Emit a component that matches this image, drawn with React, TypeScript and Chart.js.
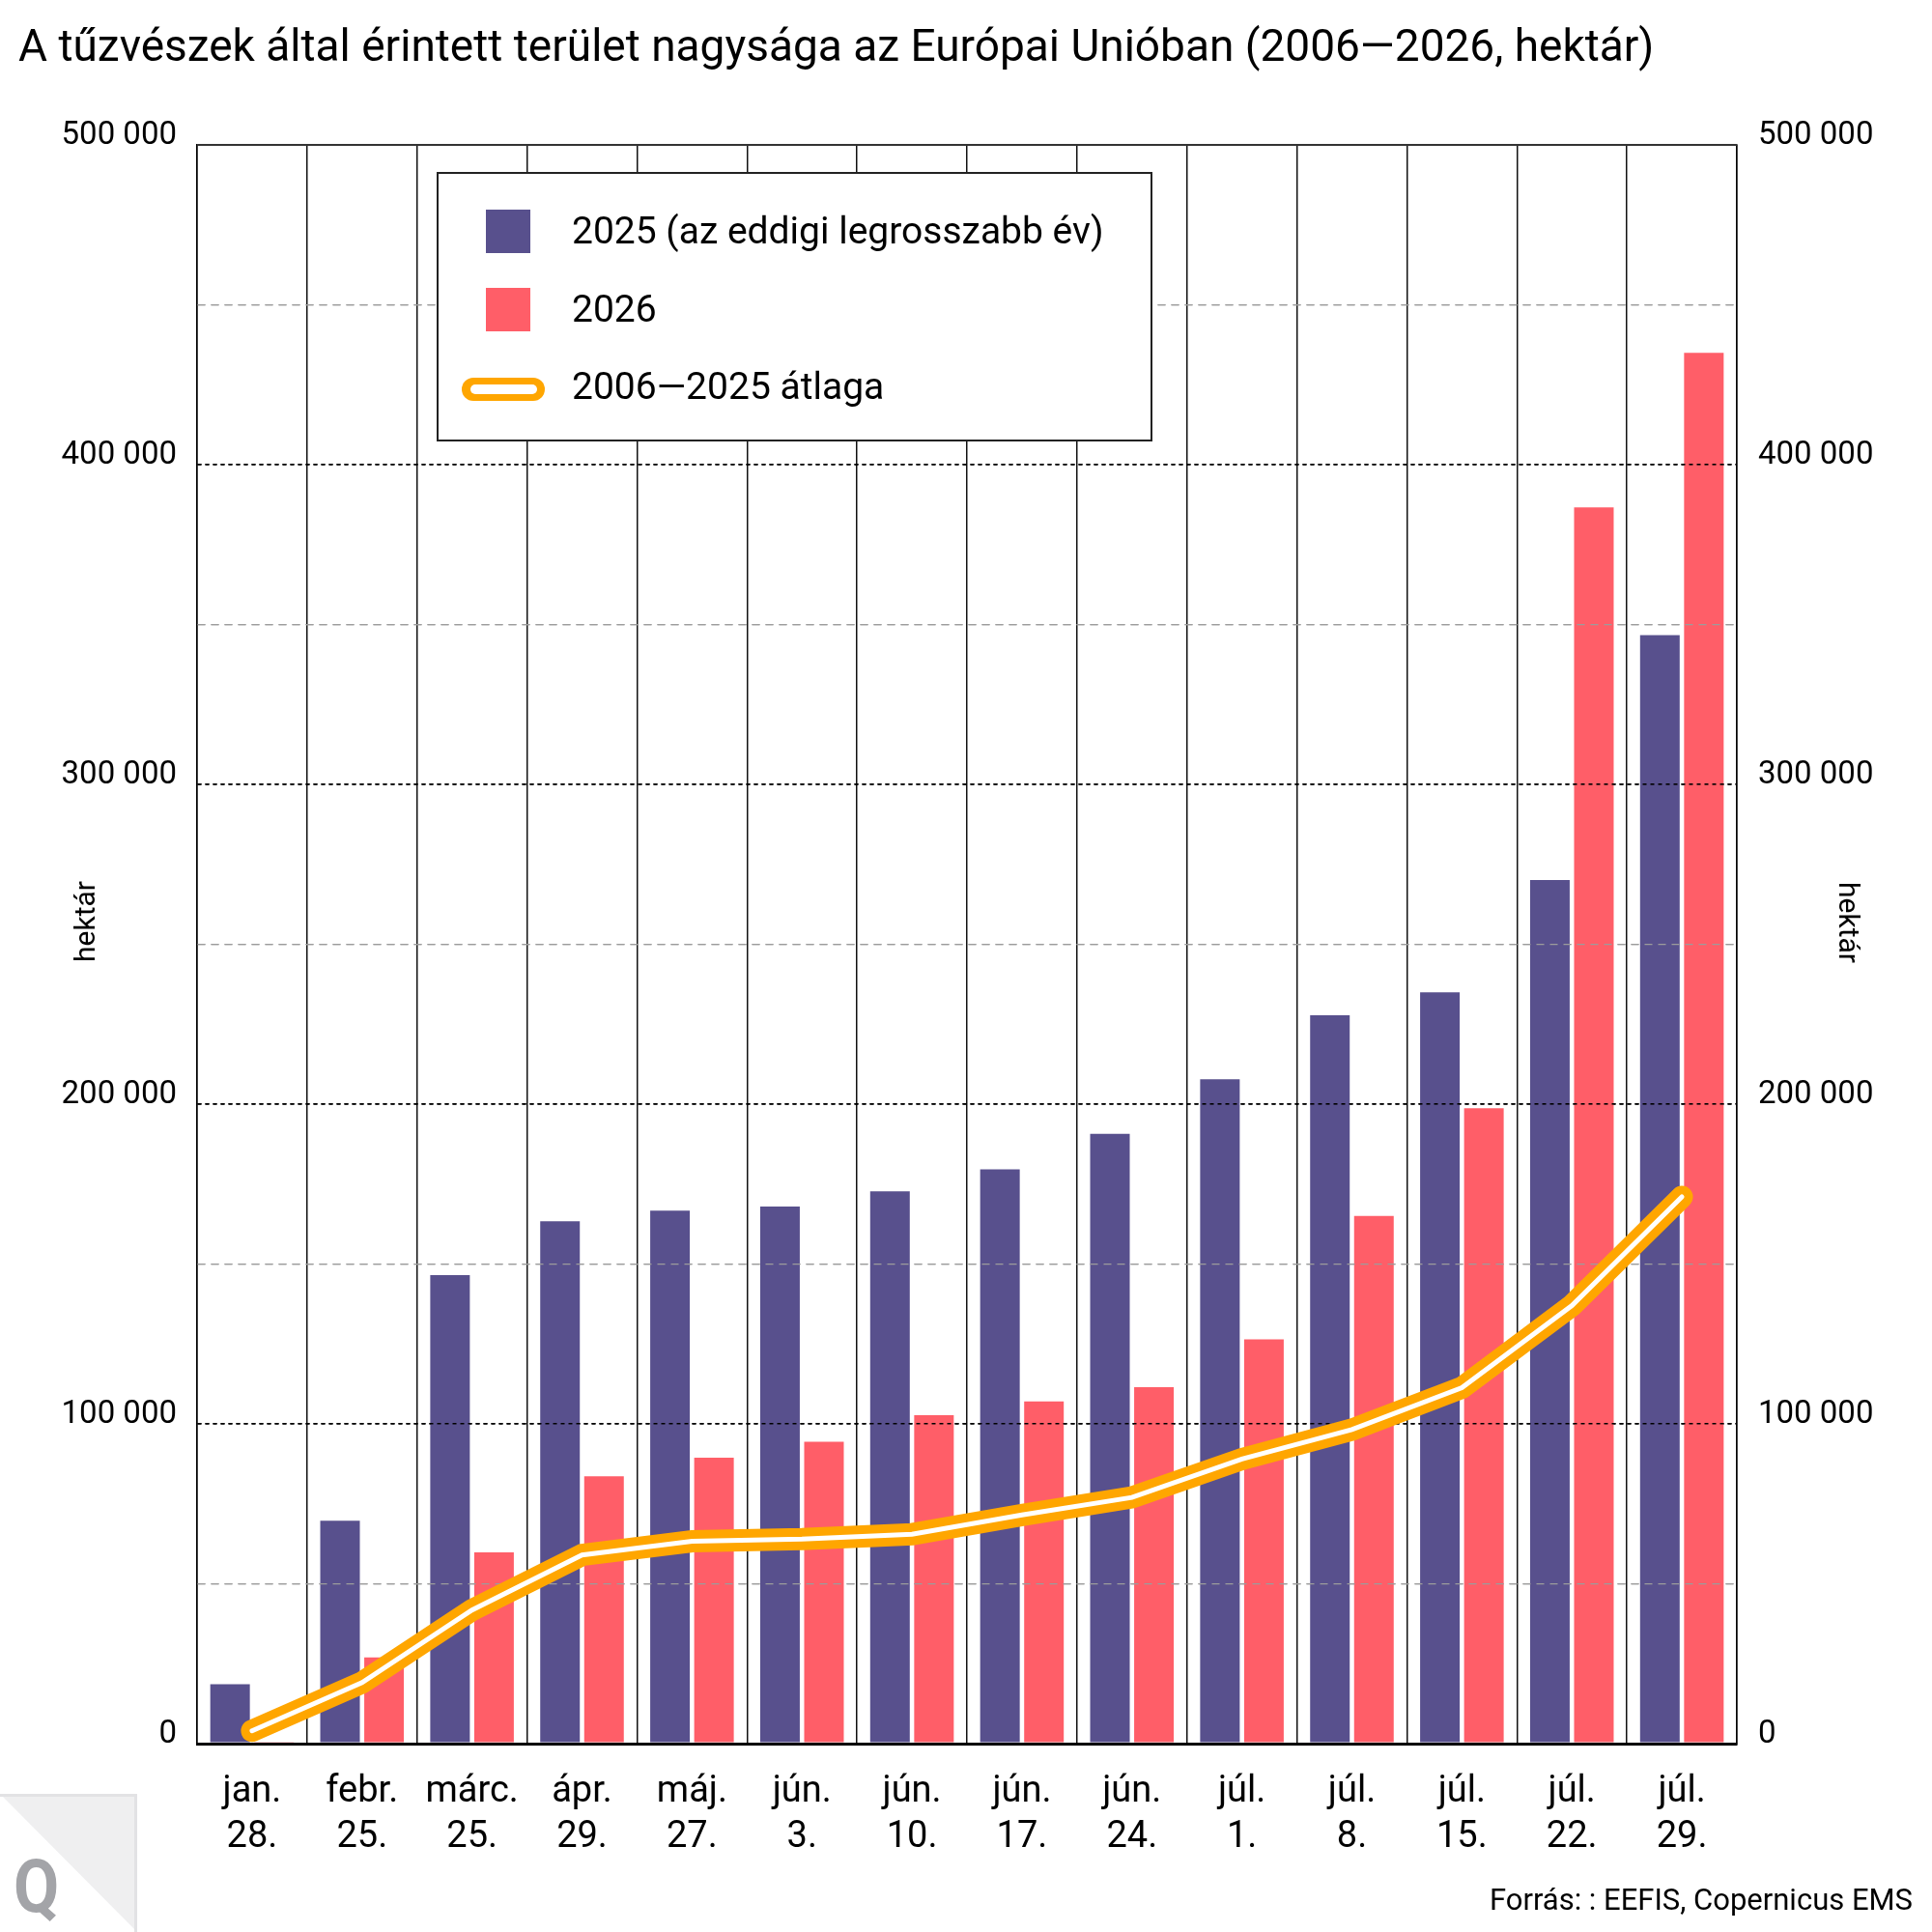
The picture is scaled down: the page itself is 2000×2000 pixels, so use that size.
import React, { useEffect, useRef } from "react";
import { Chart, registerables } from "chart.js";

Chart.register(...registerables);

const TITLE = "A tűzvészek által érintett terület nagysága az Európai Unióban (2006—2026, hektár)";
const SOURCE = "Forrás: : EEFIS, Copernicus EMS";
const AXIS_TITLE = "hektár";
const LOGO_TEXT = "Q";

const CATEGORIES: string[][] = [
  ["jan.", "28."],
  ["febr.", "25."],
  ["márc.", "25."],
  ["ápr.", "29."],
  ["máj.", "27."],
  ["jún.", "3."],
  ["jún.", "10."],
  ["jún.", "17."],
  ["jún.", "24."],
  ["júl.", "1."],
  ["júl.", "8."],
  ["júl.", "15."],
  ["júl.", "22."],
  ["júl.", "29."],
];

const LABEL_2025 = "2025 (az eddigi legrosszabb év)";
const LABEL_2026 = "2026";
const LABEL_AVG = "2006—2025 átlaga";

const SERIES_2025 = [18600, 69700, 146500, 163400, 166700, 168000, 172700, 179600, 190700, 207800, 227800, 235000, 270100, 346700];
const SERIES_2026 = [400, 27000, 59800, 83600, 89400, 94400, 102700, 107000, 111500, 126400, 165000, 198700, 386600, 435000];
const SERIES_AVG = [4000, 19100, 41800, 59000, 63300, 64000, 65500, 71500, 77000, 89000, 98200, 111300, 137000, 171000];

const Y_MIN = 0;
const Y_MAX = 500000;
const Y_STEP = 50000;
const Y_LABEL_STEP = 100000;

const PURPLE = "#58508d";
const RED = "#ff5e68";
const ORANGE = "#ffa600";
const FONT = "Roboto";

const fmt = (v: number) => String(v).replace(/\B(?=(\d{3})+(?!\d))/g, " ");
const tickLabel = (v: any) => (Number(v) % Y_LABEL_STEP === 0 ? fmt(Number(v)) : "");

const decorations = {
  id: "decorations",
  beforeDatasetDraw(chart: any, args: any) {
    // horizontal grid lines run over the bars but under the average line
    if (args.index === 2) {
      const ctx = chart.ctx;
      ctx.save();
      chart.scales.y.drawGrid(chart.chartArea);
      ctx.restore();
    }
  },
  afterDraw(chart: any) {
    const ctx = chart.ctx as CanvasRenderingContext2D;
    ctx.save();
    ctx.fillStyle = "#000";

    // title
    ctx.font = `46px ${FONT}`;
    ctx.textAlign = "left";
    ctx.textBaseline = "alphabetic";
    ctx.fillText(TITLE, 19, 63);

    // axis titles
    ctx.font = `30px ${FONT}`;
    ctx.textAlign = "center";
    ctx.textBaseline = "middle";
    ctx.save();
    ctx.translate(90, 954);
    ctx.rotate(-Math.PI / 2);
    ctx.fillText(AXIS_TITLE, 0, 0);
    ctx.restore();
    ctx.save();
    ctx.translate(1911, 955);
    ctx.rotate(Math.PI / 2);
    ctx.fillText(AXIS_TITLE, 0, 0);
    ctx.restore();

    // legend box
    const bx = 453, by = 179, bw = 739, bh = 277;
    ctx.fillStyle = "#fff";
    ctx.fillRect(bx, by, bw, bh);
    ctx.strokeStyle = "#222";
    ctx.lineWidth = 2;
    ctx.strokeRect(bx, by, bw, bh);

    const ds = chart.data.datasets;
    const rows = [
      { d: ds[0], base: 252 },
      { d: ds[1], base: 333 },
      { d: ds[2], base: 413 },
    ];
    ctx.font = `39px ${FONT}`;
    ctx.textAlign = "left";
    ctx.textBaseline = "alphabetic";
    rows.forEach((r) => {
      if (r.d.type === "line") {
        const cy = r.base - 10;
        ctx.lineCap = "round";
        ctx.strokeStyle = r.d.borderColor;
        ctx.lineWidth = 24;
        ctx.beginPath();
        ctx.moveTo(490, cy);
        ctx.lineTo(552, cy);
        ctx.stroke();
        ctx.strokeStyle = "#fff";
        ctx.lineWidth = 10;
        ctx.beginPath();
        ctx.moveTo(492, cy);
        ctx.lineTo(551, cy);
        ctx.stroke();
      } else {
        ctx.fillStyle = r.d.backgroundColor;
        ctx.fillRect(503, r.base - 35, 46, 45);
      }
      ctx.fillStyle = "#000";
      ctx.fillText(r.d.label, 592, r.base);
    });

    // source
    ctx.font = `31px ${FONT}`;
    ctx.textAlign = "right";
    ctx.fillStyle = "#000";
    ctx.fillText(SOURCE, 1980, 1977);

    // logo
    ctx.fillStyle = "#efeff0";
    ctx.beginPath();
    ctx.moveTo(0, 1857);
    ctx.lineTo(142, 1857);
    ctx.lineTo(142, 2000);
    ctx.closePath();
    ctx.fill();
    ctx.strokeStyle = "#e2e2e4";
    ctx.lineWidth = 3;
    ctx.beginPath();
    ctx.moveTo(0, 1858.5);
    ctx.lineTo(140.5, 1858.5);
    ctx.lineTo(140.5, 2000);
    ctx.stroke();
    ctx.fillStyle = "#a3a4a8";
    ctx.font = `bold 76px ${FONT}`;
    ctx.textAlign = "left";
    ctx.save();
    ctx.translate(14, 1979);
    ctx.scale(0.9, 1);
    ctx.fillText(LOGO_TEXT, 0, 0);
    ctx.restore();

    ctx.restore();
  },
};

export default function App() {
  const ref = useRef<HTMLCanvasElement | null>(null);

  useEffect(() => {
    if (!ref.current) return;
    const yTicks = {
      stepSize: Y_STEP,
      callback: tickLabel,
      font: { family: FONT, size: 33 },
      color: "#000",
      labelOffset: -9,
      autoSkip: false,
    };
    const chart = new Chart(ref.current, {
      data: {
        labels: CATEGORIES,
        datasets: [
          {
            type: "bar",
            label: LABEL_2025,
            data: SERIES_2025,
            backgroundColor: PURPLE,
            borderWidth: 0,
            categoryPercentage: 0.8,
            barPercentage: 0.9,
            order: 3,
          },
          {
            type: "bar",
            label: LABEL_2026,
            data: SERIES_2026,
            backgroundColor: RED,
            borderWidth: 0,
            categoryPercentage: 0.8,
            barPercentage: 0.9,
            order: 3,
          },
          {
            type: "line",
            label: LABEL_AVG,
            data: SERIES_AVG,
            borderColor: ORANGE,
            borderWidth: 23,
            pointRadius: 0,
            pointHoverRadius: 0,
            borderCapStyle: "round",
            borderJoinStyle: "miter",
            tension: 0,
            fill: false,
            order: 2,
          },
          {
            type: "line",
            label: "",
            data: SERIES_AVG,
            borderColor: "#ffffff",
            borderWidth: 5,
            pointRadius: 0,
            pointHoverRadius: 0,
            borderCapStyle: "round",
            borderJoinStyle: "miter",
            tension: 0,
            fill: false,
            order: 1,
          },
        ],
      } as any,
      options: {
        animation: false,
        responsive: false,
        devicePixelRatio: 1,
        layout: { padding: { top: 150, bottom: 45, left: 0, right: 0 } },
        plugins: {
          legend: { display: false },
          title: { display: false },
          tooltip: { enabled: false },
        },
        scales: {
          x: {
            offset: true,
            grid: { color: "#111", lineWidth: 1.5, drawTicks: false, offset: true },
            border: { display: true, color: "#000", width: 3 },
            ticks: {
              font: { family: FONT, size: 38, lineHeight: 1.23 },
              color: "#000",
              padding: 27,
              maxRotation: 0,
              minRotation: 0,
              autoSkip: false,
            },
            afterFit: (s: any) => {
              s.height = 150;
            },
          },
          y: {
            position: "left",
            min: Y_MIN,
            max: Y_MAX,
            ticks: { ...yTicks, padding: 21 },
            grid: {
              drawTicks: false,
              color: (c: any) => {
                const v = c.tick?.value;
                if (v === undefined || v === 0) return "#000";
                if (v === Y_MAX) return "#333";
                return v % Y_LABEL_STEP === 0 ? "#000" : "#9c9c9c";
              },
              lineWidth: (c: any) => {
                const v = c.tick?.value;
                if (v === undefined) return 1.5;
                if (v === 0) return 3;
                if (v === Y_MAX) return 2;
                return v % Y_LABEL_STEP === 0 ? 1.6 : 1.2;
              },
            },
            border: {
              display: true,
              color: "#000",
              width: 1.5,
              dash: (c: any) => {
                const v = c.tick?.value;
                if (v === undefined || v === 0 || v === Y_MAX) return [];
                return v % Y_LABEL_STEP === 0 ? [4, 4] : [8, 6];
              },
            },
            afterFit: (s: any) => {
              s.width = 204;
            },
          },
          y2: {
            position: "right",
            min: Y_MIN,
            max: Y_MAX,
            ticks: { ...yTicks, padding: 22 },
            grid: { drawOnChartArea: false, drawTicks: false },
            border: { display: true, color: "#000", width: 1.5 },
            afterFit: (s: any) => {
              s.width = 202;
            },
          },
        },
      } as any,
      plugins: [decorations],
    });
    return () => chart.destroy();
  }, []);

  return (
    <div style={{ position: "absolute", left: 0, top: 0, width: 2000, height: 2000, background: "#fff" }}>
      <canvas ref={ref} width={2000} height={2000} style={{ display: "block", width: 2000, height: 2000 }} />
    </div>
  );
}
